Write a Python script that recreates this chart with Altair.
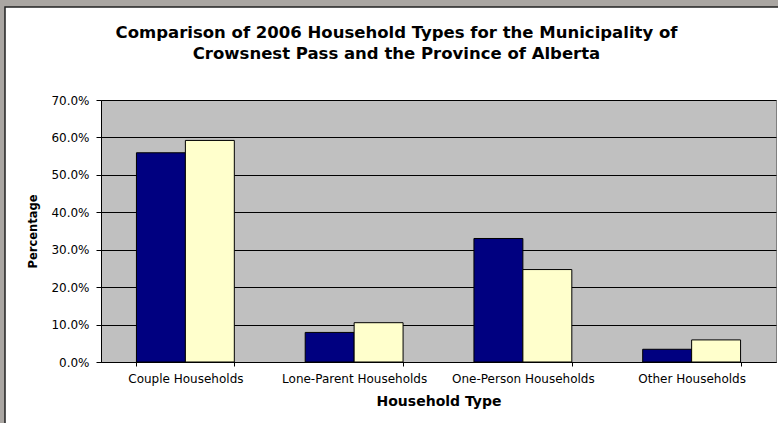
import altair as alt
import pandas as pd

# ---- data ----
categories = ["Couple Households", "Lone-Parent Households", "One-Person Households", "Other Households"]
series = ["Crowsnest Pass", "Alberta"]
crowsnest_pct = [55.9, 7.9, 33.0, 3.4]
alberta_pct = [59.2, 10.5, 24.7, 5.9]
y_ticks = [0.0, 0.1, 0.2, 0.3, 0.4, 0.5, 0.6, 0.7]
title_lines = ["Comparison of 2006 Household Types for the Municipality of",
               "Crowsnest Pass and the Province of Alberta"]

rows = []
for i, c in enumerate(categories):
    rows.append({"type": c, "area": series[0], "value": crowsnest_pct[i]})
    rows.append({"type": c, "area": series[1], "value": alberta_pct[i]})
df = pd.DataFrame(rows)

W, H = 675, 262
FONT = "DejaVu Sans"
PHOTO = "#aaa6a2"

one = pd.DataFrame({"k": [0]})

# decorative page frame (background photo strips and chart border)
strip_left = alt.Chart(one).mark_rect(fill=PHOTO).encode(
    x=alt.value(-101), x2=alt.value(-96), y=alt.value(-100), y2=alt.value(H + 61))
strip_top = alt.Chart(one).mark_rect(fill=PHOTO).encode(
    x=alt.value(-101), x2=alt.value(W + 2), y=alt.value(-100), y2=alt.value(-93))
frame = alt.Chart(one).mark_rect(fillOpacity=0, stroke="#222222", strokeWidth=1.5).encode(
    x=alt.value(-96), x2=alt.value(W + 20), y=alt.value(-93), y2=alt.value(H + 80))

bars = alt.Chart(df).transform_calculate(pct="datum.value / 100").mark_bar(
    stroke="black", strokeWidth=1
).encode(
    x=alt.X("type:N", sort=categories,
            scale=alt.Scale(paddingInner=0.42, paddingOuter=0.21),
            axis=alt.Axis(title="Household Type", labelAngle=0, tickBand="extent",
                          tickSize=4, labelPadding=7, titlePadding=10,
                          titleFontSize=14, grid=False)),
    xOffset=alt.XOffset("area:N", sort=series),
    y=alt.Y("pct:Q", scale=alt.Scale(domain=[0, 0.7], nice=False),
            axis=alt.Axis(title="Percentage", format=".1%", values=y_ticks,
                          tickSize=5, labelPadding=7, titlePadding=12,
                          titleFontSize=11.5, grid=True)),
    color=alt.Color("area:N", sort=series,
                    scale=alt.Scale(domain=series, range=["#000080", "#FFFFCC"]),
                    legend=None),
)

chart = alt.layer(strip_left, strip_top, frame, bars).properties(
    width=W, height=H,
    title=alt.TitleParams(title_lines, font=FONT, fontSize=16.5, fontWeight="bold",
                          anchor="middle", frame="group", dx=-42, offset=-62,
                          lineHeight=21, color="black"),
    autosize=alt.AutoSizeParams(type="none"),
    padding={"left": 101, "top": 100, "right": 2, "bottom": 61},
).configure(
    background="white",
).configure_view(
    fill="#C0C0C0", stroke="#808080", strokeWidth=1,
).configure_axis(
    labelFont=FONT, labelFontSize=12, labelColor="black",
    titleFont=FONT, titleFontWeight="bold", titleColor="black",
    domainColor="black", tickColor="black", gridColor="black", gridWidth=1,
    gridOpacity=1,
)

chart.save("out.html", embed_options={"renderer": "svg", "actions": False})
